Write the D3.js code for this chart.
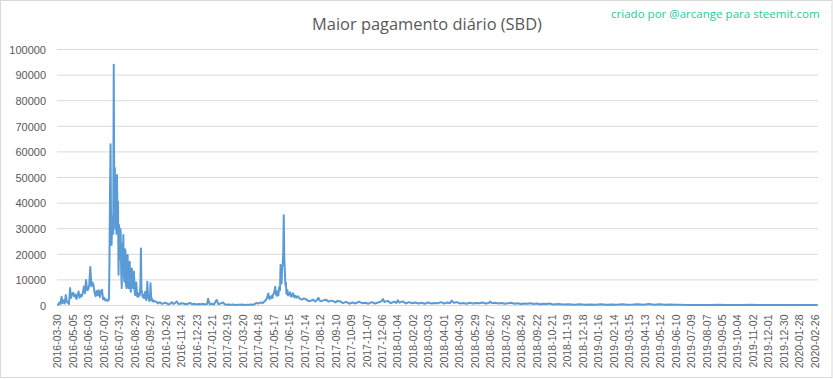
<!DOCTYPE html>
<html><head><meta charset="utf-8">
<script src="https://cdn.jsdelivr.net/npm/d3@7"></script>
<style>html,body{margin:0;padding:0;background:#fff;}svg{display:block;}</style>
</head><body>
<svg id="chart" width="833" height="379"></svg>
<script>
const titleText = "Maior pagamento diário (SBD)";
const creditText = "criado por @arcange para steemit.com";
const categoryCount = 1428;
const tickEvery = 29;
const tickLabels = ["2016-03-30","2016-05-05","2016-06-03","2016-07-02","2016-07-31","2016-08-29","2016-09-27","2016-10-26","2016-11-24","2016-12-23","2017-01-21","2017-02-19","2017-03-20","2017-04-18","2017-05-17","2017-06-15","2017-07-14","2017-08-12","2017-09-10","2017-10-09","2017-11-07","2017-12-06","2018-01-04","2018-02-02","2018-03-03","2018-04-01","2018-04-30","2018-05-29","2018-06-27","2018-07-26","2018-08-24","2018-09-22","2018-10-21","2018-11-19","2018-12-18","2019-01-16","2019-02-14","2019-03-15","2019-04-13","2019-05-12","2019-06-10","2019-07-09","2019-08-07","2019-09-05","2019-10-04","2019-11-02","2019-12-01","2019-12-30","2020-01-28","2020-02-26"];
const yTicks = [0,10000,20000,30000,40000,50000,60000,70000,80000,90000,100000];

// category index of each read point, and the largest daily payout (SBD)
const pointIdx = [0,2,4,6,8,10,12,14,16,18,20,22,24,26,28,30,32,34,36,38,40,42,44,46,48,50,52,54,56,58,60,62,64,66,68,70,72,74,76,78,80,82,84,86,88,90,92,94,96,
97,98,99,100,101,102,103,104,105,106,107,108,109,110,111,112,113,114,115,116,117,118,119,120,121,122,123,124,125,126,127,128,129,130,131,132,133,134,135,136,137,138,139,140,141,142,143,144,145,146,147,148,149,150,151,152,153,154,155,156,157,158,159,160,161,162,163,164,165,166,167,168,169,170,171,172,173,174,175,176,177,178,179,180,181,
182,186,189,193,196,199,202,205,208,211,215,218,221,224,227,230,233,237,241,245,249,253,257,261,265,269,273,277,281,283,286,290,294,299,302,306,311,314,318,322,326,330,334,338,343,347,351,355,359,363,367,371,374,378,382,385,387,390,393,396,398,399,401,402,404,405,407,409,410,412,413,415,416,418,419,420,421,422,423,424,425,426,427,428,429,430,432,433,435,437,438,440,442,443,445,447,449,452,455,459,463,468,471,474,477,480,484,487,490,493,496,500,505,509,513,518,522,526,
530,536,542,548,554,560,566,572,578,584,590,596,602,608,611,614,620,626,632,636,639,642,648,654,660,666,672,678,684,690,696,702,708,714,720,726,732,737,740,744,750,756,762,768,774,780,786,792,798,804,810,812,816,822,828,834,840,846,852,858,864,870,876,882,888,894,900,906,912,918,924,930,940,950,960,970,980,990,1000,1010,1020,1030,1040,1050,1060,1070,1080,1090,1100,1110,1120,1130,1140,1150,1160,1170,1180,1195,1210,1225,1240,1255,1270,1285,1300,1315,1330,1345,1360,1375,1390,1405,1415,1427];
const payoutSBD = [500,300,1200,600,3400,900,2000,800,4100,1500,1000,600,6800,3000,4500,5000,3500,4300,2500,4000,5500,3000,4200,3600,5000,7400,4800,10000,6000,6200,8000,15000,7500,9000,8100,5000,3600,5700,4000,6000,3300,5500,6100,2400,3000,2000,2400,1800,2000,
2500,18000,45000,63000,30000,23600,35000,32700,28000,94000,38000,53700,30000,48000,28000,51000,35000,40500,12000,31400,18000,30000,28800,13000,6800,24000,15000,27500,12000,9300,22000,21000,8000,6800,18000,19700,9000,6800,15000,17100,7000,5400,12000,14500,8000,6800,11000,13200,6000,4100,4100,9000,6800,3500,5000,3400,4500,3800,4100,8000,22300,6000,5400,3500,4100,3000,2900,4000,5400,3000,2100,4000,9300,5000,2900,2500,1700,2800,8700,4000,2100,2500,1700,2000,1500,
1700,1500,800,1300,700,800,1100,900,500,600,1300,600,900,1600,700,600,900,800,500,700,1000,500,700,400,600,500,700,400,600,2600,500,700,400,2200,600,700,1200,500,300,400,250,350,200,300,250,350,200,300,250,400,300,600,1000,800,1200,900,1300,1800,2700,4700,2500,3300,2800,3700,3000,4300,5000,7300,4500,3800,5500,4000,7000,6000,15800,10000,8700,14900,16000,20000,35300,18000,13900,8000,9000,4600,6000,3900,4500,5100,3600,3500,4800,4400,3200,3800,3000,3600,2600,2300,2800,2300,1800,1700,2000,2300,1600,2000,3000,1800,1700,2100,2200,1500,1900,1700,1200,1800,
1700,900,1400,700,1200,800,1500,900,1100,700,1300,800,1200,1600,2500,1400,1800,900,1500,1000,2000,1100,1600,800,1300,900,1200,800,1100,700,1200,800,1000,900,1300,800,1200,900,1900,1100,1300,800,1000,700,1100,800,1000,900,1200,800,1000,1500,900,1100,800,1000,700,900,1100,700,900,600,800,700,900,600,800,500,700,600,800,400,600,350,500,300,450,300,400,300,500,300,350,250,450,300,350,500,300,550,300,450,300,350,250,300,200,150,200,150,250,150,200,150,300,150,200,150,150,200,150,150,200,150];

const svg = d3.select("#chart");
const W = 833, H = 379;
const plot = {left: 57, right: 818, top: 49.5, bottom: 305.5};

svg.append("rect").attr("x",0.5).attr("y",0.5).attr("width",W-1.5).attr("height",H-2)
  .attr("fill","#fff").attr("stroke","#d9d9d9").attr("stroke-width",1);

const x = d3.scaleLinear().domain([-0.5, categoryCount - 0.5]).range([plot.left, plot.right]);
const y = d3.scaleLinear().domain([0, 100000]).range([plot.bottom, plot.top]);

// gridlines
svg.append("g").selectAll("line").data(yTicks.filter(d => d > 0)).join("line")
  .attr("x1", plot.left).attr("x2", plot.right)
  .attr("y1", d => y(d)).attr("y2", d => y(d))
  .attr("stroke", "#d9d9d9").attr("stroke-width", 1);

// y axis labels
const yAxis = d3.axisLeft(y).tickValues(yTicks).tickSize(0).tickPadding(0).tickFormat(d3.format("d"));
const gy = svg.append("g").attr("transform", `translate(46,0)`).call(yAxis);
gy.select(".domain").remove();
gy.selectAll("text").attr("font-family","'Liberation Sans', Arial, sans-serif").attr("font-size","11px")
  .attr("fill","#595959").attr("dy","0.35em");

// x axis
const tickIdx = tickLabels.map((_, i) => i * tickEvery);
const xAxis = d3.axisBottom(x).tickValues(tickIdx).tickSize(0).tickFormat((d, i) => tickLabels[i]);
const gx = svg.append("g").attr("transform", `translate(0,${plot.bottom})`).call(xAxis);
gx.select(".domain").attr("stroke","#d9d9d9").attr("d", `M${plot.left},0H${plot.right}`);
gx.selectAll("text")
  .attr("font-family","'Liberation Sans', Arial, sans-serif").attr("font-size","10.5px").attr("fill","#595959")
  .attr("text-anchor","end").attr("y",0).attr("dy","0.35em")
  .attr("transform","translate(0,9) rotate(-90)");

// line
const pts = pointIdx.map((d, i) => [d, payoutSBD[i]]);
const line = d3.line().x(d => x(d[0])).y(d => y(d[1]));
svg.append("path").datum(pts).attr("d", line)
  .attr("fill","none").attr("stroke","#5b9bd5").attr("stroke-width",2).attr("stroke-linejoin","round");

// title
const t = svg.append("text").attr("x", 427).attr("y", 30).attr("text-anchor","middle")
  .attr("font-family","'Open Sans', 'Liberation Sans', sans-serif").attr("font-size","18px")
  .attr("fill","#595959").text(titleText);
let tw = t.node().getComputedTextLength();
t.attr("font-size", (18 * 230 / tw).toFixed(2) + "px");

// credit
const c = svg.append("text").attr("x", 611).attr("y", 18)
  .attr("font-family","'Open Sans', 'Liberation Sans', sans-serif").attr("font-size","11px")
  .attr("fill","#1ccc9c").text(creditText);
let cw = c.node().getComputedTextLength();
c.attr("font-size", (11 * 209 / cw).toFixed(2) + "px");
</script>
</body></html>
